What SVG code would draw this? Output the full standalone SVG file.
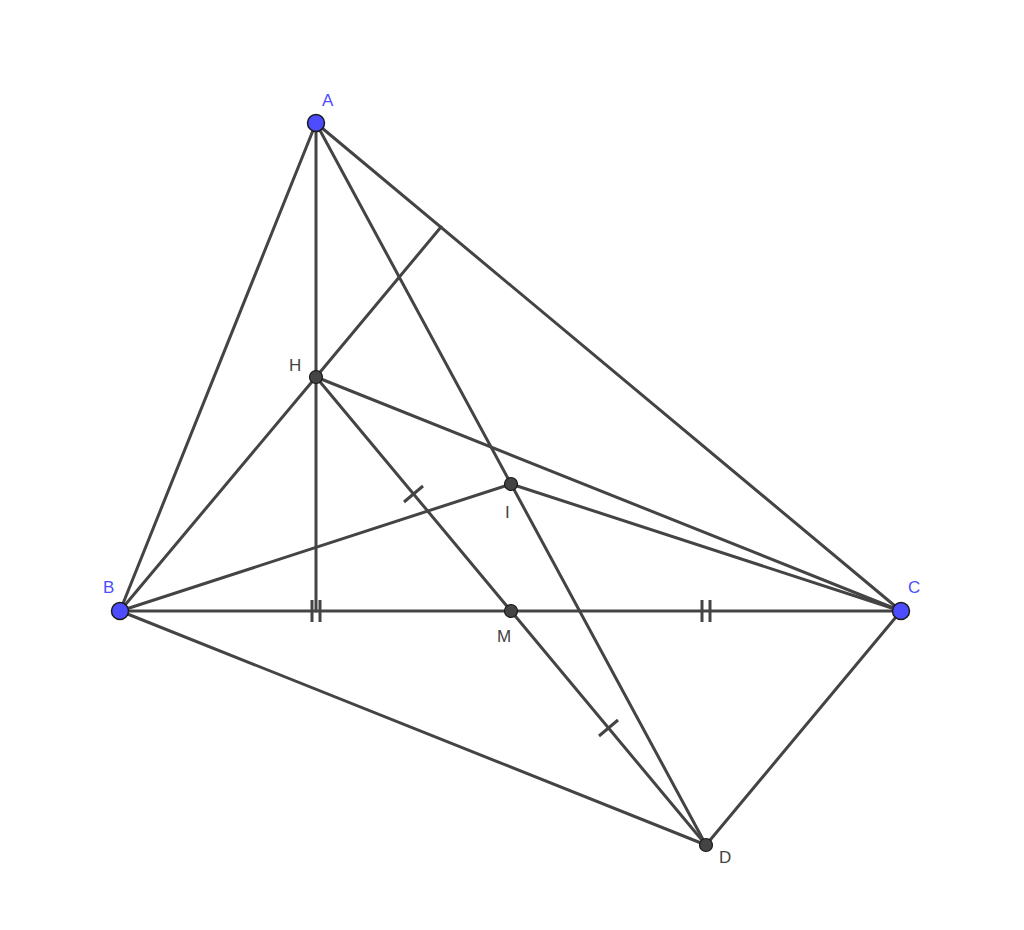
<svg xmlns="http://www.w3.org/2000/svg" width="1024" height="930" viewBox="0 0 1024 930">
<style>
.ln{stroke:#444;stroke-width:3;fill:none;stroke-linecap:round}
.tk{stroke:#444;stroke-width:3;fill:none}
.fp{fill:#4d4dff;stroke:#1a1a1a;stroke-width:1.5}
.dp{fill:#444;stroke:#1a1a1a;stroke-width:1.2}
.lb{font-family:"Liberation Sans",Arial,sans-serif;font-size:17px}
.lbf{fill:#4d4dff}
.lbd{fill:#444}
</style>
<rect width="1024" height="930" fill="#fff"/>
<g id="connectors">
<line class="ln" x1="316" y1="123" x2="120" y2="611"/>
<line class="ln" x1="316" y1="123" x2="901" y2="611"/>
<line class="ln" x1="120" y1="611" x2="901" y2="611"/>
<line class="ln" x1="316" y1="123" x2="316" y2="611"/>
<line class="ln" x1="316" y1="377" x2="441" y2="227"/>
<line class="ln" x1="120" y1="611" x2="316" y2="377"/>
<line class="ln" x1="316" y1="377" x2="901" y2="611"/>
<line class="ln" x1="316" y1="377" x2="706" y2="845"/>
<line class="ln" x1="120" y1="611" x2="511" y2="484"/>
<line class="ln" x1="511" y1="484" x2="901" y2="611"/>
<line class="ln" x1="316" y1="123" x2="706" y2="845"/>
<line class="ln" x1="120" y1="611" x2="706" y2="845"/>
<line class="ln" x1="901" y1="611" x2="706" y2="845"/>
<line class="tk" x1="312" y1="600" x2="312" y2="622"/>
<line class="tk" x1="320" y1="600" x2="320" y2="622"/>
<line class="tk" x1="702" y1="600" x2="702" y2="622"/>
<line class="tk" x1="710" y1="600" x2="710" y2="622"/>
<line class="tk" x1="404" y1="502" x2="423" y2="486"/>
<line class="tk" x1="599" y1="736" x2="618" y2="720"/>
</g>
<g id="A"><circle class="fp" cx="316" cy="123" r="8.5"/><text class="lb lbf" x="322" y="106">A</text></g>
<g id="B"><circle class="fp" cx="120" cy="611" r="8.5"/><text class="lb lbf" x="103" y="593">B</text></g>
<g id="C"><circle class="fp" cx="901" cy="611" r="8.5"/><text class="lb lbf" x="908" y="593">C</text></g>
<g id="H"><circle class="dp" cx="316" cy="377" r="6.5"/><text class="lb lbd" x="289" y="371">H</text></g>
<g id="I"><circle class="dp" cx="511" cy="484" r="6.5"/><text class="lb lbd" x="505" y="518">I</text></g>
<g id="M"><circle class="dp" cx="511" cy="611" r="6.5"/><text class="lb lbd" x="497" y="642">M</text></g>
<g id="D"><circle class="dp" cx="706" cy="845" r="6.5"/><text class="lb lbd" x="719" y="863">D</text></g>
</svg>
